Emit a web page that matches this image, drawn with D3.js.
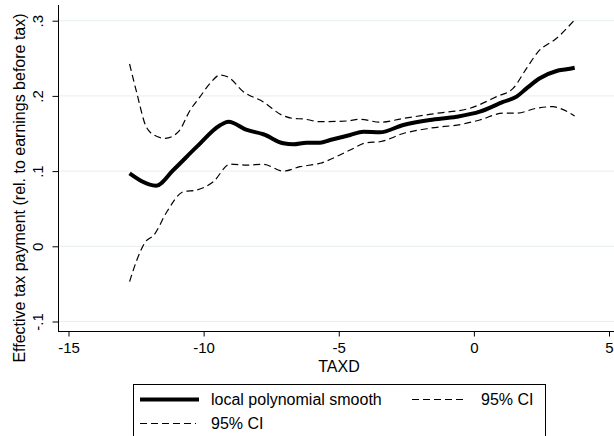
<!DOCTYPE html>
<html><head><meta charset="utf-8">
<script src="https://cdn.jsdelivr.net/npm/d3@7/dist/d3.min.js"></script>
<style>body{margin:0;background:#fff}svg{display:block;font-family:"Liberation Sans",Arial,sans-serif}</style>
</head><body><svg id="c" width="614" height="436"></svg>
<script>
const smoothX = [-12.74,-11.76,-11.12,-10.25,-9.39,-9.08,-8.40,-7.79,-7.05,-6.68,-6.19,-5.69,-5.32,-4.58,-4.09,-3.48,-2.61,-1.63,-0.64,0.22,1.08,1.58,1.95,2.44,3.06,3.43,3.73];
const smoothY = [0.097,0.0806,0.1015,0.1325,0.161,0.1657,0.1547,0.149,0.137,0.1356,0.1378,0.1378,0.1413,0.148,0.1524,0.1516,0.1613,0.168,0.1723,0.179,0.192,0.199,0.210,0.2234,0.2331,0.2354,0.2375];
const upperX = [-12.74,-12.47,-12.15,-11.84,-11.42,-10.93,-10.50,-10.13,-9.76,-9.39,-9.08,-8.53,-7.79,-7.11,-6.68,-6.31,-5.69,-4.71,-4.21,-3.48,-2.61,-1.38,-0.15,0.84,1.45,1.95,2.38,3.06,3.73];
const upperY = [0.2424,0.2035,0.161,0.148,0.1436,0.1524,0.181,0.199,0.2167,0.2278,0.2247,0.2056,0.192,0.1746,0.170,0.1693,0.1657,0.1666,0.1689,0.165,0.170,0.1768,0.1835,0.199,0.210,0.2367,0.2588,0.2766,0.3012];
const lowerX = [-12.74,-12.47,-12.15,-11.84,-11.36,-10.75,-10.25,-9.64,-9.02,-8.40,-7.79,-7.05,-6.43,-5.69,-4.58,-3.97,-3.48,-2.61,-1.63,-0.40,0.22,1.08,1.58,2.31,2.93,3.18,3.73];
const lowerY = [-0.047,-0.0182,0.0061,0.015,0.046,0.0726,0.0749,0.086,0.1094,0.108,0.109,0.100,0.1059,0.1104,0.128,0.1378,0.139,0.150,0.157,0.1626,0.168,0.177,0.177,0.1835,0.1857,0.1835,0.1733];
const xTicks = [-15,-10,-5,0,5];
const xTickLabels = ["-15","-10","-5","0","5"];
const yTicks = [-0.1,0,0.1,0.2,0.3];
const yTickLabels = ["-.1","0",".1",".2",".3"];
const legendLabels = ["local polynomial smooth","95% CI","95% CI"];

const svg = d3.select("#c");
const pLeft = 58, pRight = 614, pTop = 5, pBottom = 332;
const x = d3.scaleLinear().domain([-15, 5]).range([68.5, 609]);
const y = d3.scaleLinear().domain([0, 0.3]).range([246.3, 20.7]);

// gridlines
svg.append("g").selectAll("line").data(yTicks).join("line")
  .attr("x1", pLeft).attr("x2", pRight)
  .attr("y1", d => y(d)).attr("y2", d => y(d))
  .attr("stroke", "#e6eef0").attr("stroke-width", 1);

// y axis
const yAxis = d3.axisLeft(y).tickValues(yTicks).tickFormat((d,i) => yTickLabels[i]).tickSize(6).tickPadding(3);
const gy = svg.append("g").attr("transform", `translate(${pLeft + 0.5},0)`).call(yAxis);
gy.select(".domain").remove();
gy.append("line").attr("x1",0).attr("x2",0).attr("y1",pTop).attr("y2",pBottom).attr("stroke","#000");
gy.selectAll(".tick text").attr("font-size", 15).attr("fill","#000")
  .attr("text-anchor","middle").attr("dy",0)
  .attr("transform", "translate(-16,0) rotate(-90)")
  .attr("x", 0).attr("y", 0);
gy.selectAll(".tick line").attr("stroke","#000");

// x axis
const xAxis = d3.axisBottom(x).tickValues(xTicks).tickFormat((d,i) => xTickLabels[i]).tickSize(5).tickPadding(6);
const gx = svg.append("g").attr("transform", `translate(0,${pBottom - 0.5})`).call(xAxis);
gx.select(".domain").remove();
gx.append("line").attr("x1",pLeft).attr("x2",pRight).attr("y1",0).attr("y2",0).attr("stroke","#000");
gx.selectAll(".tick text").attr("font-size", 15).attr("fill","#000");
gx.selectAll(".tick line").attr("stroke","#000");

// axis titles
svg.append("text").attr("x", 339).attr("y", 371.5).attr("text-anchor","middle").attr("font-size",16).text("TAXD");
svg.append("text").attr("transform","translate(25,188) rotate(-90)").attr("text-anchor","middle").attr("font-size",16)
  .text("Effective tax payment (rel. to earnings before tax)");

const line = d3.line().x(d => x(d[0])).y(d => y(d[1])).curve(d3.curveMonotoneX);
const zip = (a,b) => a.map((v,i) => [v,b[i]]);
svg.append("path").datum(zip(upperX,upperY)).attr("d",line).attr("fill","none").attr("stroke","#000").attr("stroke-width",1.2).attr("stroke-dasharray","7,4");
svg.append("path").datum(zip(lowerX,lowerY)).attr("d",line).attr("fill","none").attr("stroke","#000").attr("stroke-width",1.2).attr("stroke-dasharray","7,4");
svg.append("path").datum(zip(smoothX,smoothY)).attr("d",line).attr("fill","none").attr("stroke","#000").attr("stroke-width",4).attr("stroke-linejoin","round");

// legend
const lg = svg.append("g");
lg.append("rect").attr("x",133.5).attr("y",384.5).attr("width",412).attr("height",60).attr("fill","#fff").attr("stroke","#000");
const items = [
  {x1:140,x2:199,tx:211,yy:399.5,by:405,w:4,dash:null,label:legendLabels[0]},
  {x1:412,x2:467,tx:481,yy:399.5,by:405,w:1.2,dash:"7,4",label:legendLabels[1]},
  {x1:140,x2:196,tx:211,yy:423.5,by:429,w:1.2,dash:"7,4",label:legendLabels[2]}
];
items.forEach(it => {
  lg.append("line").attr("x1",it.x1).attr("x2",it.x2).attr("y1",it.yy).attr("y2",it.yy)
    .attr("stroke","#000").attr("stroke-width",it.w).attr("stroke-dasharray",it.dash);
  lg.append("text").attr("x",it.tx).attr("y",it.by).attr("font-size",16).text(it.label);
});
</script></body></html>
